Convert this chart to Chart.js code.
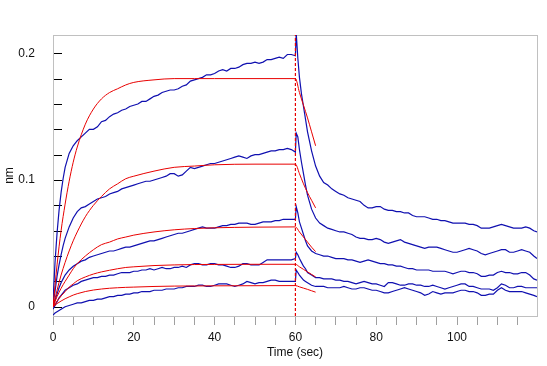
<!DOCTYPE html>
<html>
<head>
<meta charset="utf-8">
<script src="https://cdn.jsdelivr.net/npm/chart.js@4.4.1/dist/chart.umd.min.js"></script>
<style>
  html, body { margin: 0; padding: 0; background: #fff; }
</style>
</head>
<body>
<canvas id="chart" width="547" height="366"></canvas>
<script>
// sensor time points (sec): association 0-60, dissociation 60-120
const sensorTime = [
  0, 0.5, 1, 1.5, 2, 2.5, 3,
  4, 5, 6, 7, 8, 9, 10, 11, 12, 13,
  14, 15, 16, 17, 18, 19, 20, 21, 22, 23,
  24, 25, 26, 27, 28, 29, 30, 31, 32, 33,
  34, 35, 36, 37, 38, 39, 40, 41, 42, 43,
  44, 45, 46, 47, 48, 49, 50, 51, 52, 53,
  54, 55, 56, 57, 58, 59, 60,
  60.2, 60.6, 61, 61.5, 62, 62.5, 63,
  64, 65, 66, 67, 68, 69, 70, 71, 72, 73,
  74, 75, 76, 77, 78, 79, 80, 81, 82, 83,
  84, 85, 86, 87, 88, 89, 90, 91, 92, 93,
  94, 95, 96, 97, 98, 99, 100, 101, 102, 103,
  104, 105, 106, 107, 108, 109, 110, 111, 112, 113,
  114, 115, 116, 117, 118, 119,
  119.8
];

// measured responses (nm), highest to lowest concentration
const response1 = [
  0.004, 0.035, 0.058, 0.076, 0.090, 0.101, 0.110,
  0.121, 0.127, 0.131, 0.134, 0.137, 0.140, 0.140, 0.142, 0.146, 0.147,
  0.150, 0.152, 0.153, 0.155, 0.156, 0.158, 0.159, 0.160, 0.162, 0.162,
  0.164, 0.166, 0.167, 0.169, 0.170, 0.171, 0.171, 0.172, 0.174, 0.175,
  0.178, 0.179, 0.180, 0.181, 0.183, 0.183, 0.184, 0.186, 0.187, 0.186,
  0.188, 0.188, 0.189, 0.191, 0.192, 0.192, 0.193, 0.192, 0.193, 0.195,
  0.195, 0.196, 0.197, 0.196, 0.199, 0.199, 0.198,
  0.216, 0.196, 0.181, 0.168, 0.158, 0.148, 0.138,
  0.123, 0.111, 0.103, 0.098, 0.096, 0.093, 0.091, 0.089, 0.088, 0.086,
  0.085, 0.084, 0.083, 0.080, 0.078, 0.078, 0.079, 0.079, 0.077, 0.076,
  0.076, 0.075, 0.075, 0.074, 0.074, 0.072, 0.071, 0.071, 0.071, 0.070,
  0.069, 0.069, 0.068, 0.068, 0.067, 0.066, 0.066, 0.066, 0.066, 0.065,
  0.065, 0.064, 0.062, 0.062, 0.062, 0.063, 0.064, 0.065, 0.064, 0.063,
  0.062, 0.062, 0.062, 0.063, 0.062, 0.060,
  0.059
];
const response2 = [
  0.002, 0.012, 0.024, 0.033, 0.041, 0.048, 0.054,
  0.063, 0.070, 0.075, 0.078, 0.079, 0.081, 0.083, 0.085, 0.086, 0.087,
  0.089, 0.090, 0.091, 0.093, 0.094, 0.095, 0.096, 0.097, 0.098, 0.099,
  0.099, 0.100, 0.101, 0.102, 0.103, 0.105, 0.105, 0.103, 0.104, 0.107,
  0.110, 0.109, 0.110, 0.111, 0.112, 0.113, 0.113, 0.114, 0.115, 0.116,
  0.117, 0.118, 0.119, 0.118, 0.117, 0.119, 0.120, 0.120, 0.121, 0.122,
  0.123, 0.123, 0.124, 0.124, 0.125, 0.124, 0.122,
  0.137, 0.134, 0.124, 0.114, 0.105, 0.096, 0.088,
  0.077, 0.070, 0.066, 0.064, 0.062, 0.061, 0.060, 0.059, 0.059, 0.058,
  0.057, 0.055, 0.054, 0.054, 0.053, 0.053, 0.054, 0.053, 0.051, 0.050,
  0.051, 0.052, 0.053, 0.051, 0.050, 0.049, 0.048, 0.047, 0.046, 0.047,
  0.047, 0.047, 0.046, 0.045, 0.044, 0.043, 0.043, 0.044, 0.045, 0.046,
  0.045, 0.044, 0.042, 0.041, 0.042, 0.043, 0.044, 0.045, 0.045, 0.043,
  0.043, 0.044, 0.045, 0.044, 0.043, 0.040,
  0.038
];
const response3 = [
  0.000, 0.005, 0.010, 0.015, 0.019, 0.022, 0.025,
  0.029, 0.032, 0.034, 0.036, 0.037, 0.039, 0.040, 0.041, 0.042, 0.043,
  0.044, 0.044, 0.045, 0.046, 0.047, 0.047, 0.048, 0.049, 0.050, 0.051,
  0.052, 0.052, 0.053, 0.054, 0.055, 0.056, 0.057, 0.058, 0.058, 0.059,
  0.060, 0.061, 0.062, 0.063, 0.062, 0.062, 0.062, 0.063, 0.064, 0.064,
  0.065, 0.065, 0.066, 0.066, 0.066, 0.065, 0.065, 0.066, 0.067, 0.067,
  0.067, 0.068, 0.068, 0.069, 0.069, 0.069, 0.069,
  0.079, 0.074, 0.067, 0.062, 0.057, 0.052, 0.048,
  0.044, 0.042, 0.041, 0.040, 0.040, 0.039, 0.038, 0.038, 0.038, 0.037,
  0.037, 0.036, 0.035, 0.036, 0.037, 0.036, 0.035, 0.034, 0.034, 0.033,
  0.033, 0.032, 0.032, 0.031, 0.030, 0.030, 0.029, 0.029, 0.029, 0.029,
  0.028, 0.028, 0.028, 0.028, 0.027, 0.026, 0.027, 0.028, 0.028, 0.027,
  0.027, 0.026, 0.024, 0.024, 0.025, 0.025, 0.027, 0.028, 0.027, 0.027,
  0.026, 0.026, 0.027, 0.027, 0.025, 0.022,
  0.021
];
const response4 = [
  -0.002, 0.001, 0.004, 0.007, 0.009, 0.011, 0.013,
  0.015, 0.017, 0.018, 0.020, 0.021, 0.022, 0.023, 0.023, 0.024, 0.024,
  0.025, 0.025, 0.026, 0.027, 0.027, 0.027, 0.028, 0.028, 0.029, 0.029,
  0.030, 0.029, 0.030, 0.031, 0.030, 0.030, 0.031, 0.031, 0.032, 0.031,
  0.033, 0.034, 0.034, 0.033, 0.033, 0.034, 0.034, 0.033, 0.033, 0.032,
  0.031, 0.031, 0.032, 0.034, 0.034, 0.033, 0.033, 0.033, 0.035, 0.037,
  0.037, 0.037, 0.037, 0.037, 0.037, 0.037, 0.038,
  0.043, 0.041, 0.038, 0.035, 0.032, 0.030, 0.027,
  0.025, 0.023, 0.023, 0.022, 0.022, 0.022, 0.021, 0.021, 0.020, 0.020,
  0.019, 0.018, 0.019, 0.020, 0.019, 0.018, 0.018, 0.017, 0.016, 0.019,
  0.019, 0.018, 0.017, 0.017, 0.018, 0.018, 0.017, 0.017, 0.016, 0.016,
  0.017, 0.016, 0.015, 0.014, 0.015, 0.016, 0.017, 0.018, 0.018, 0.016,
  0.016, 0.015, 0.014, 0.014, 0.014, 0.013, 0.015, 0.018, 0.017, 0.015,
  0.015, 0.016, 0.016, 0.015, 0.015, 0.015,
  0.015
];
const response5 = [
  -0.0066, -0.005, -0.004, -0.003, -0.002, -0.001, 0.000,
  0.001, 0.002, 0.003, 0.003, 0.004, 0.005, 0.005, 0.006, 0.006, 0.007,
  0.008, 0.008, 0.009, 0.009, 0.010, 0.010, 0.011, 0.011, 0.012, 0.012,
  0.012, 0.013, 0.013, 0.013, 0.014, 0.014, 0.014, 0.015, 0.015, 0.016,
  0.016, 0.016, 0.017, 0.017, 0.016, 0.016, 0.017, 0.018, 0.018, 0.018,
  0.017, 0.016, 0.017, 0.018, 0.020, 0.019, 0.018, 0.019, 0.019, 0.020,
  0.021, 0.021, 0.020, 0.020, 0.020, 0.020, 0.020,
  0.029, 0.027, 0.025, 0.023, 0.021, 0.020, 0.019,
  0.017, 0.016, 0.016, 0.016, 0.015, 0.015, 0.015, 0.015, 0.016, 0.015,
  0.014, 0.014, 0.015, 0.015, 0.014, 0.013, 0.013, 0.012, 0.011, 0.011,
  0.012, 0.013, 0.014, 0.015, 0.014, 0.013, 0.012, 0.011, 0.009, 0.010,
  0.012, 0.011, 0.010, 0.011, 0.011, 0.011, 0.012, 0.013, 0.013, 0.012,
  0.012, 0.011, 0.009, 0.009, 0.010, 0.010, 0.013, 0.015, 0.013, 0.012,
  0.012, 0.012, 0.012, 0.011, 0.010, 0.009,
  0.008
];

// fitted curves (nm)
const fitTime = [0, 1, 2, 3, 4, 5, 6, 8, 10, 12, 14, 16, 18, 20, 25, 30, 35, 40, 50, 60, 61, 62, 63, 64, 65];
const fit1 = [0, 0.033, 0.060, 0.081, 0.099, 0.114, 0.126, 0.144, 0.156, 0.164, 0.169, 0.172, 0.175, 0.177, 0.179, 0.180, 0.180, 0.180, 0.180, 0.180, 0.169, 0.159, 0.149, 0.138, 0.127];
const fit2 = [0, 0.013, 0.025, 0.035, 0.044, 0.052, 0.059, 0.071, 0.080, 0.087, 0.093, 0.097, 0.101, 0.103, 0.107, 0.110, 0.111, 0.112, 0.1125, 0.1125, 0.105, 0.097, 0.090, 0.084, 0.078];
const fit3 = [0, 0.008, 0.0145, 0.020, 0.025, 0.030, 0.034, 0.040, 0.045, 0.049, 0.051, 0.0535, 0.055, 0.0565, 0.059, 0.0607, 0.0617, 0.0623, 0.0628, 0.063, 0.059, 0.055, 0.051, 0.047, 0.0435];
const fit4 = [0, 0.0045, 0.0085, 0.012, 0.0155, 0.018, 0.0205, 0.0235, 0.0258, 0.0275, 0.0288, 0.030, 0.031, 0.0315, 0.0325, 0.033, 0.0333, 0.0334, 0.0335, 0.0335, 0.0315, 0.0295, 0.0275, 0.0255, 0.0235];
const fit5 = [0, 0.0025, 0.0045, 0.0063, 0.0078, 0.0092, 0.0103, 0.012, 0.0132, 0.014, 0.0146, 0.015, 0.0153, 0.0155, 0.016, 0.0163, 0.0164, 0.0165, 0.0166, 0.0167, 0.0157, 0.0147, 0.0137, 0.0126, 0.0115];

const dissociationStart = 60;
const xMin = 0, xMax = 119.8;
const yMin = -0.0073, yMax = 0.2144;

const BLUE = '#1010b0';
const RED = '#e80000';

const toPoints = (times, values) => times.map((t, i) => ({ x: t, y: values[i] }));

const fitSets = [fit1, fit2, fit3, fit4, fit5].map((vals) => ({
  data: toPoints(fitTime, vals),
  borderColor: RED,
  borderWidth: 1,
  cubicInterpolationMode: 'monotone',
}));

const responseSets = [response1, response2, response3, response4, response5].map((vals) => ({
  data: toPoints(sensorTime, vals),
  borderColor: BLUE,
  borderWidth: 1.2,
}));

const injectionLine = {
  data: [{ x: dissociationStart, y: yMin }, { x: dissociationStart, y: yMax }],
  borderColor: RED,
  borderWidth: 1.2,
  borderDash: [3, 2],
};

// plot frame + inward y tick marks
const framePlugin = {
  id: 'frame',
  beforeDatasetsDraw(chart) {
    const { ctx, chartArea: a, scales } = chart;
    ctx.save();
    ctx.strokeStyle = '#c0c0c0';
    ctx.lineWidth = 1;
    ctx.strokeRect(a.left + 0.5, a.top + 0.5, a.right - a.left, a.bottom - a.top);
    ctx.strokeStyle = '#000';
    scales.y.ticks.forEach((tk) => {
      const y = Math.round(scales.y.getPixelForValue(tk.value)) + 0.5;
      ctx.beginPath();
      ctx.moveTo(a.left + 1, y);
      ctx.lineTo(a.left + 9, y);
      ctx.stroke();
    });
    ctx.restore();
  },
};

Chart.defaults.font.family = '"Liberation Sans", Arial, sans-serif';
Chart.defaults.font.size = 12;
Chart.defaults.color = '#111';

new Chart(document.getElementById('chart'), {
  type: 'scatter',
  data: { datasets: [injectionLine, ...fitSets, ...responseSets] },
  options: {
    responsive: false,
    animation: false,
    showLine: true,
    elements: { point: { radius: 0 }, line: { tension: 0 } },
    layout: { padding: { top: 35, right: 10, left: 0, bottom: 0 } },
    plugins: { legend: { display: false }, tooltip: { enabled: false } },
    scales: {
      x: {
        type: 'linear',
        min: xMin,
        max: xMax,
        afterFit: (scale) => { scale.height = 50; },
        border: { display: false },
        grid: { drawOnChartArea: false, tickLength: 9, color: '#a0a0a0' },
        ticks: {
          stepSize: 5,
          autoSkip: false,
          maxRotation: 0,
          includeBounds: false,
          padding: 5,
          callback: (v) => (v % 20 === 0 ? String(v) : ''),
        },
        title: { display: true, text: 'Time (sec)', padding: { top: 0, bottom: 6 } },
      },
      y: {
        type: 'linear',
        min: yMin,
        max: yMax,
        afterFit: (scale) => { scale.width = 53; },
        border: { display: false },
        grid: { display: false },
        ticks: {
          stepSize: 0.02,
          autoSkip: false,
          includeBounds: false,
          padding: 10,
          callback: (v) => {
            const tenth = v * 10;
            return Math.abs(tenth - Math.round(tenth)) < 1e-6 ? String(Math.round(tenth) / 10) : '';
          },
        },
        title: { display: true, text: 'nm', padding: { top: 2, bottom: 0 } },
      },
    },
  },
  plugins: [framePlugin],
});
</script>
</body>
</html>
